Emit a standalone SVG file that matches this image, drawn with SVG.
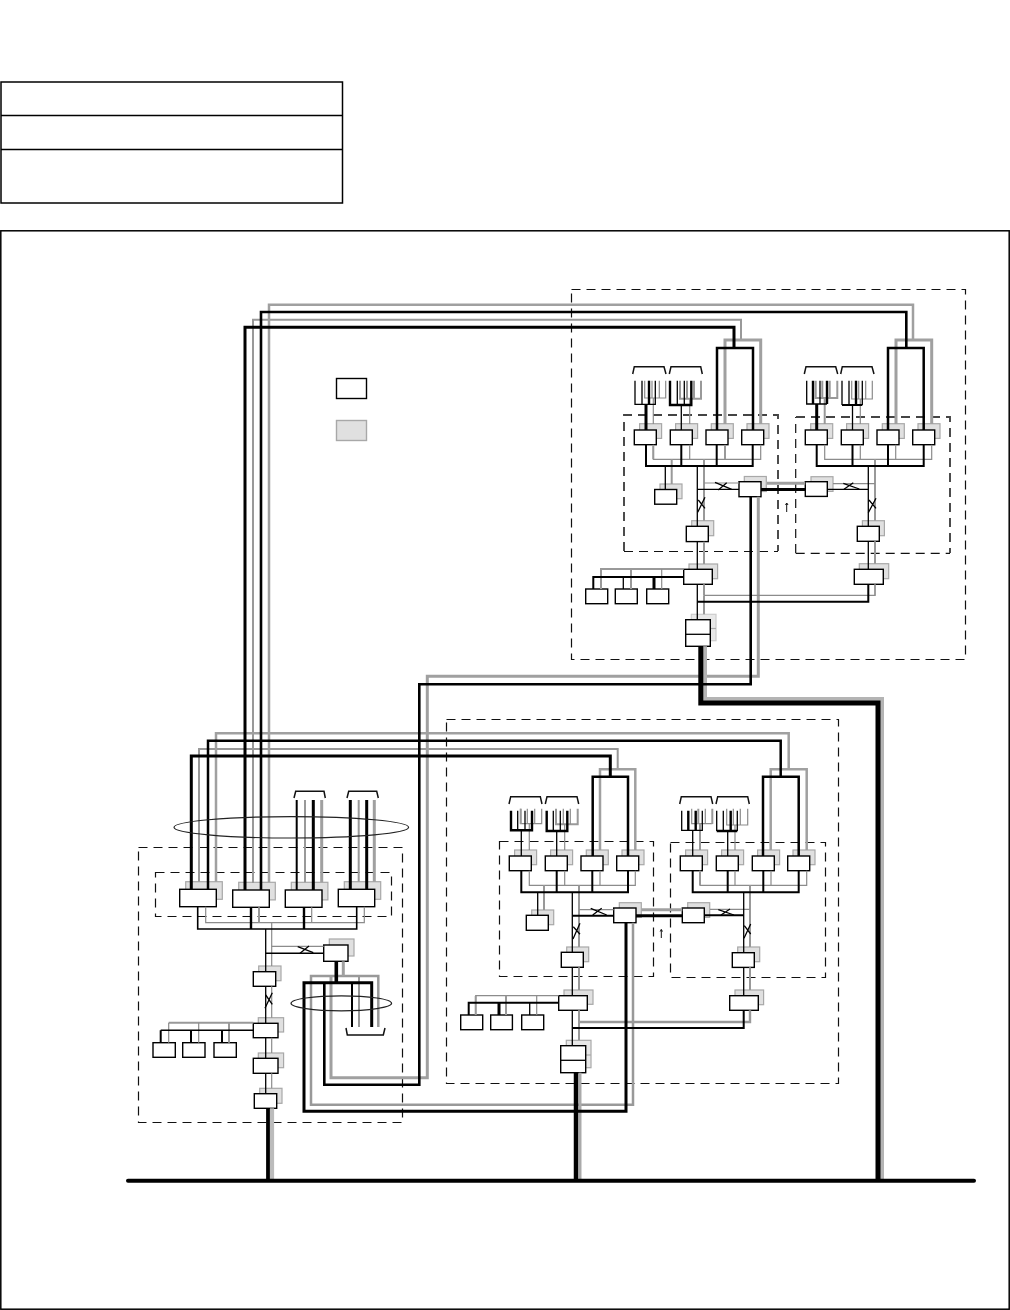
<svg xmlns="http://www.w3.org/2000/svg" width="1010" height="1310" viewBox="0 0 1010 1310">
<style>
.frame{fill:none;stroke:#000;stroke-width:1.5}
.d{fill:none;stroke:#111;stroke-width:1.2;stroke-dasharray:9 6}
.dt{fill:none;stroke:#444;stroke-width:1.9;stroke-dasharray:9 6}
.n{fill:#fff;stroke:#000;stroke-width:1.4}
.s{fill:#e0e0e0;stroke:#a8a8a8;stroke-width:1.2}
.w{fill:none;stroke-linejoin:miter}
.b1{stroke:#000;stroke-width:1.3}
.b2{stroke:#000;stroke-width:2}
.b3{stroke:#000;stroke-width:3}
.g1{stroke:#8c8c8c;stroke-width:1.2}
.g2{stroke:#999;stroke-width:2}
.g3{stroke:#a0a0a0;stroke-width:3}
.br{fill:none;stroke:#111;stroke-width:1.5}
.el{fill:none;stroke:#222;stroke-width:1.2}
</style>

<g id="table">
<rect class="frame" x="1" y="82" width="341.5" height="121"/>
<path class="frame" d="M1 115.5H342.5M1 149.5H342.5"/>
</g>
<rect id="outer-frame" class="frame" x="0.8" y="230.8" width="1008.4" height="1078.4"/>

<g id="zones">
<rect class="d" x="571.5" y="289.5" width="394" height="370"/>
<rect class="d" x="446.5" y="719.5" width="392" height="364"/>
<rect class="d" x="138.5" y="847.5" width="264" height="275"/>
<rect class="d" x="155.5" y="872.5" width="236" height="44"/>
<rect class="d" x="499.5" y="841.5" width="154" height="135"/>
<rect class="d" x="670.5" y="842.5" width="155" height="135"/>
<path class="dt" d="M624 551V415H778V551"/>
<path class="d" d="M624 551.5H778"/>
<path class="d" d="M795.7 553V417M795.7 553.3H950"/>
<path class="dt" d="M796 417H950V553"/>
</g>

<g id="legend-plain"><rect class="n" x="336.5" y="378.5" width="30" height="20"/></g>
<g id="legend-shadow"><rect class="s" x="336.5" y="420.5" width="30" height="20" style="stroke-width:1.4"/></g>

<g id="node-a1"><rect class="s" x="639.6" y="423.7" width="22" height="14.7"/><rect class="n" x="634.3" y="430" width="22" height="14.7"/></g>
<g id="node-a2"><rect class="s" x="675.6" y="423.7" width="22" height="14.7"/><rect class="n" x="670.3" y="430" width="22" height="14.7"/></g>
<g id="node-a3"><rect class="s" x="711.3" y="423.7" width="22" height="14.7"/><rect class="n" x="706" y="430" width="22" height="14.7"/></g>
<g id="node-a4"><rect class="s" x="747" y="423.7" width="22" height="14.7"/><rect class="n" x="741.7" y="430" width="22" height="14.7"/></g>
<g id="node-a5"><rect class="s" x="660" y="484" width="22" height="14.7"/><rect class="n" x="654.7" y="489.5" width="22" height="14.7"/></g>
<g id="node-a6"><rect class="s" x="744.3" y="476.5" width="22" height="15"/><rect class="n" x="739" y="481.7" width="22" height="15"/></g>
<g id="node-a7"><rect class="s" x="691.7" y="520.7" width="22" height="15"/><rect class="n" x="686.3" y="526.3" width="22" height="15.3"/></g>
<g id="node-a8"><rect class="s" x="689" y="564" width="28.6" height="14.7"/><rect class="n" x="683.7" y="569.3" width="28.6" height="15"/></g>
<g id="node-a9"><rect class="n" x="585.7" y="589" width="22" height="14.7"/></g>
<g id="node-a10"><rect class="n" x="615.3" y="589" width="22" height="14.7"/></g>
<g id="node-a11"><rect class="n" x="646.7" y="589" width="22" height="14.7"/></g>
<g id="node-a12"><rect class="s" x="691.3" y="614.3" width="24.7" height="26.4" style="fill:#e8e8e8;stroke:#ccc"/><path d="M691.3 628.5H716" stroke="#aaa" stroke-width="1.2" fill="none"/><rect class="n" x="685.7" y="619.7" width="24.6" height="26.6"/><path class="b1" d="M685.7 634.3H710.3"/></g>

<g id="node-a13"><rect class="s" x="810.7" y="423.7" width="22" height="14.7"/><rect class="n" x="805.3" y="430" width="22" height="14.7"/></g>
<g id="node-a14"><rect class="s" x="846.6" y="423.7" width="22" height="14.7"/><rect class="n" x="841.3" y="430" width="22" height="14.7"/></g>
<g id="node-a15"><rect class="s" x="882.3" y="423.7" width="22" height="14.7"/><rect class="n" x="877" y="430" width="22" height="14.7"/></g>
<g id="node-a16"><rect class="s" x="918" y="423.7" width="22" height="14.7"/><rect class="n" x="912.7" y="430" width="22" height="14.7"/></g>
<g id="node-a17"><rect class="s" x="811" y="476.7" width="22" height="14.7"/><rect class="n" x="805.3" y="481.7" width="22" height="14.7"/></g>
<g id="node-a18"><rect class="s" x="862.4" y="520.7" width="22" height="15"/><rect class="n" x="857.3" y="526.3" width="22" height="15"/></g>
<g id="node-a19"><rect class="s" x="859.3" y="563.7" width="29.4" height="15"/><rect class="n" x="854.3" y="569.3" width="29" height="15"/></g>

<g id="node-b1"><rect class="s" x="514.6" y="850" width="22" height="14.7"/><rect class="n" x="509.3" y="856" width="22" height="14.7"/></g>
<g id="node-b2"><rect class="s" x="550.6" y="850" width="22" height="14.7"/><rect class="n" x="545.3" y="856" width="22" height="14.7"/></g>
<g id="node-b3"><rect class="s" x="586.3" y="850" width="22" height="14.7"/><rect class="n" x="581" y="856" width="22" height="14.7"/></g>
<g id="node-b4"><rect class="s" x="622" y="850" width="22" height="14.7"/><rect class="n" x="616.7" y="856" width="22" height="14.7"/></g>
<g id="node-b5"><rect class="s" x="531.7" y="910" width="22" height="14.7"/><rect class="n" x="526.3" y="915.3" width="22" height="15"/></g>
<g id="node-b6"><rect class="s" x="619.3" y="902.7" width="22" height="14.7"/><rect class="n" x="613.7" y="908" width="22.3" height="14.7"/></g>
<g id="node-b7"><rect class="s" x="566.7" y="947" width="22" height="14.7"/><rect class="n" x="561.3" y="952.3" width="22" height="15"/></g>
<g id="node-b8"><rect class="s" x="564" y="990" width="29" height="14.3"/><rect class="n" x="558.7" y="995.7" width="28.6" height="14.6"/></g>
<g id="node-b9"><rect class="n" x="460.7" y="1015" width="22" height="14.7"/></g>
<g id="node-b10"><rect class="n" x="490.7" y="1015" width="21.7" height="14.7"/></g>
<g id="node-b11"><rect class="n" x="521.7" y="1015" width="22" height="14.7"/></g>
<g id="node-b12"><rect class="s" x="566.3" y="1040.3" width="24.7" height="27.4" style="fill:#e8e8e8"/><path d="M566.3 1055H591" stroke="#aaa" stroke-width="1.2" fill="none"/><rect class="n" x="560.7" y="1045.7" width="25" height="27"/><path class="b1" d="M560.7 1060.3H585.7"/></g>

<g id="node-b13"><rect class="s" x="685.6" y="850" width="22" height="14.7"/><rect class="n" x="680.3" y="856" width="22" height="14.7"/></g>
<g id="node-b14"><rect class="s" x="721.6" y="850" width="22" height="14.7"/><rect class="n" x="716.3" y="856" width="22" height="14.7"/></g>
<g id="node-b15"><rect class="s" x="757.6" y="850" width="22" height="14.7"/><rect class="n" x="752.3" y="856" width="22" height="14.7"/></g>
<g id="node-b16"><rect class="s" x="793" y="850" width="22" height="14.7"/><rect class="n" x="787.7" y="856" width="22" height="14.7"/></g>
<g id="node-b17"><rect class="s" x="687.7" y="902.7" width="22" height="14.7"/><rect class="n" x="682.3" y="908" width="22" height="14.7"/></g>
<g id="node-b18"><rect class="s" x="737.7" y="947" width="22" height="14.7"/><rect class="n" x="732.3" y="952.7" width="22" height="14.7"/></g>
<g id="node-b19"><rect class="s" x="735" y="990" width="28.6" height="14.7"/><rect class="n" x="729.7" y="995.7" width="28.6" height="14.6"/></g>

<g id="node-c1"><rect class="s" x="185.7" y="881.7" width="36.6" height="17.6"/><rect class="n" x="179.7" y="889.3" width="36.6" height="17.4"/></g>
<g id="node-c2"><rect class="s" x="238.7" y="882.3" width="36.6" height="17.6"/><rect class="n" x="232.7" y="890" width="36.6" height="17.3"/></g>
<g id="node-c3"><rect class="s" x="291.3" y="882.3" width="36.6" height="17.6"/><rect class="n" x="285.3" y="890" width="36.7" height="17.3"/></g>
<g id="node-c4"><rect class="s" x="344.3" y="881.7" width="36.4" height="17.6"/><rect class="n" x="338.3" y="889.3" width="36.4" height="17.4"/></g>
<g id="node-c5"><rect class="s" x="329.3" y="939" width="24.7" height="17"/><rect class="n" x="323.7" y="945" width="24.3" height="16.3"/></g>
<g id="node-c6"><rect class="s" x="258.7" y="966" width="22.3" height="14.7"/><rect class="n" x="253.3" y="971.7" width="22.4" height="14.6"/></g>
<g id="node-c7"><rect class="s" x="258.3" y="1017.7" width="25.3" height="14.3"/><rect class="n" x="253.3" y="1023.3" width="24.7" height="14.4"/></g>
<g id="node-c8"><rect class="n" x="153" y="1042.7" width="22.3" height="14.6"/></g>
<g id="node-c9"><rect class="n" x="182.7" y="1042.7" width="22.3" height="14.6"/></g>
<g id="node-c10"><rect class="n" x="214" y="1042.7" width="22.3" height="14.6"/></g>
<g id="node-c11"><rect class="s" x="258.3" y="1053" width="25.3" height="14.7"/><rect class="n" x="253.3" y="1058.3" width="24.7" height="15"/></g>
<g id="node-c12"><rect class="s" x="259.7" y="1088.3" width="22.3" height="15"/><rect class="n" x="254.3" y="1093.7" width="22.4" height="14.6"/></g>

<g id="connectors" class="w">
<path class="w g2" d="M253 883V319.7H741V340"/>
<path class="w g3" style="stroke-width:2.5" d="M269 882.3V304.7H913V340"/>
<path class="w g2" d="M199 881.7V749H617.7V769.3"/>
<path class="w g3" style="stroke-width:2.5" d="M216 881.7V733.3H788.7V769.3"/>
<path class="w g3" d="M758.3 496.7V676.3H427.3V1077.7H331V976"/>
<path class="w g2" style="stroke-width:2.5" d="M633 922.7V1104.7H311V976H378.3V1027"/>
<path class="w g2" d="M359 976V1027"/>
<path class="w g3" d="M343.3 961.3V976"/>
<path class="w g2" d="M305 800V882.3M358.7 800V881.7"/>
<path class="w g3" d="M321.7 800V882.3M374.3 800V881.7"/>
<path class="w g3" d="M725 424V340H760.7V424"/>
<path class="w g3" d="M896 424V340H931.7V424"/>
<path class="w g3" style="stroke-width:2.5" d="M600 850V769.3H635.3V850"/>
<path class="w g3" style="stroke-width:2.5" d="M770.7 850V769.3H806.7V850"/>
<path class="w g1" d="M653.3 444.7V459.3H760.7V444.7M689.7 444.7V459.3M725 444.7V459.3"/>
<path class="w g2" d="M653.3 445V459M725 445V459"/>
<path class="w g1" d="M824.7 444.7V459.3H931.7V444.7M860.3 444.7V459.3M895.7 444.7V459.3"/>
<path class="w g1" d="M529.3 870.7V885.3H635.3V870.7M564.7 870.7V885.3M600 870.7V885.3"/>
<path class="w g1" d="M700 870.7V885.3H806.7V870.7M735 870.7V885.3M771 870.7V885.3"/>
<path class="w g2" d="M700 870.7V885"/>
<path class="w g1" d="M205.7 906.7V922.7H364.3V906.7M311.7 907.3V922.7"/>
<path class="w g2" d="M259 907.3V922.7"/>
<path class="w g2" d="M704 459.3V520.7M704 541.7V564M704 584.3V595.3"/>
<path class="w g2" d="M704 595.3V614.3"/>
<path class="w g1" d="M704 595.3H875V584.3"/>
<path class="w g2" d="M875 459.3V520.7M875 541.3V563.7"/>
<path class="w g1" d="M875 584.3V595.7"/>
<path class="w g2" d="M579 885.3V947M579 967.3V990M579 1010.3V1040.3"/>
<path class="w g2" style="stroke-width:2.4" d="M579 1022H750V1010.3"/>
<path class="w g2" d="M750 885.3V947M750 967.3V990"/>
<path class="w g1" d="M271.7 922.7V966M271.7 986.3V1017.7M271.7 1037.7V1053M271.7 1073.3V1088.3"/>
<path class="w g1" d="M704 483H739"/>
<path class="w g3" d="M767 483.3H805.3"/>
<path class="w g1" d="M833 483.7H875"/>
<path class="w g1" d="M579 909.7H613.7"/>
<path class="w g3" d="M641.5 909.7H682.3"/>
<path class="w g1" d="M710 909.3H750"/>
<path class="w g1" d="M271.7 946.3H323.7"/>
<path class="w g2" d="M671.7 459.3V484M544 885.3V910M601 589V569H683.7M631 569V589"/>
<path class="w g1" d="M661.7 569V589"/>
<path class="w g1" d="M475.7 1015V995.7H558.7M536.7 995.7V1015"/>
<path class="w g2" d="M475.7 996V1015M506 995.7V1015"/>
<path class="w g2" d="M253.3 1022.7H168.7"/>
<path class="w g1" d="M168.7 1022.7V1042.7M198.7 1022.7V1042.7"/>
<path class="w g2" d="M229 1022.7V1042.7"/>
<path class="w g1" d="M644.7 380.7V398H665.7V380.7M652 380.7V398M659.3 380.7V398"/>
<path class="w g1" d="M653.3 398V424"/>
<path class="w g2" d="M680 380.7V398.7H701V380.7M687 380.7V398.7M694 380.7V398.7"/>
<path class="w g1" d="M689.7 398.7V424"/>
<path class="w g2" d="M815.7 380.7V398H837.3V380.7M822.3 380.7V398M829.7 380.7V398"/>
<path class="w g2" d="M824.7 398V424"/>
<path class="w g1" d="M851.7 380.7V399H872.3V380.7M858.7 380.7V399M865.7 380.7V399"/>
<path class="w g1" d="M860.3 399V424"/>
<path class="w g1" d="M520.7 808.7V823.7H541.7V808.7M527.3 808.7V823.7M534.7 808.7V823.7"/>
<path class="w g2" d="M520.7 808.7V824"/>
<path class="w g1" d="M529.3 823.7V850"/>
<path class="w g2" d="M556 808.7V824.3H577.7V808.7"/>
<path class="w g1" d="M563.3 808.7V824.3M570.3 808.7V824.3M564.7 824.3V850"/>
<path class="w g1" d="M691.7 808.7V823.7H712.3M705.3 808.7V823.7"/>
<path class="w g2" d="M698.3 808.7V823.7M712.3 808.7V824M700 823.7V850"/>
<path class="w g1" d="M726.7 808.7V825H747.7V808.7M733.3 808.7V825M740.3 808.7V825M735 825V850"/>
<path class="w" stroke="#b4b4b4" stroke-width="4" d="M705 646.3V699H882V1180"/>
<path class="w" stroke="#aaa" stroke-width="3" d="M580 1072.7V1180"/>
<path class="w" stroke="#bbb" stroke-width="4.2" d="M272 1108.3V1180"/>

<path class="w b3" d="M245 890V327.3H734V348"/>
<path class="w b3" style="stroke-width:2.6" d="M261 890V312H906.3V348"/>
<path class="w b3" d="M191.3 889.3V756H610.3V776.7"/>
<path class="w b3" style="stroke-width:2.5" d="M208 889.3V740.7H780.7V776.7"/>
<path class="w b3" style="stroke-width:2.6" d="M750.7 496.7V684.3H419.3V1084.7H324.3V982.7"/>
<path class="w b3" d="M626 922.7V1111.3H304V982.7H371.7V1027"/>
<path class="w b2" d="M352 982.7V1027"/>
<path class="w b3" style="stroke-width:3.6" d="M336.3 961.3V982.7"/>
<path class="w b2" d="M296.7 800V890"/>
<path class="w b3" d="M313.3 800V890M350.3 800V889.3M366.7 800V889.3"/>
<path class="w b3" style="stroke-width:2.5" d="M717 430V348H753V430"/>
<path class="w b3" style="stroke-width:2.5" d="M888 430V348H923.7V430"/>
<path class="w b3" style="stroke-width:2.5" d="M592.7 856V776.7H628V856"/>
<path class="w b3" style="stroke-width:2.5" d="M763 856V776.7H798.7V856"/>
<path class="w b2" d="M646 444.7V466H752.7V444.7M681.3 444.7V466M716.7 444.7V466"/>
<path class="w b2" d="M816.7 444.7V466H923.7V444.7M852.5 444.7V466M888 444.7V466"/>
<path class="w b2" d="M521.3 870.7V892.3H628V870.7M556.7 870.7V892.3M592.3 870.7V892.3"/>
<path class="w b2" d="M692.7 870.7V892.3H798.7V870.7M727.7 870.7V892.3M763.3 870.7V892.3"/>
<path class="w b1" style="stroke-width:1.6" d="M197.7 906.7V929H356.7V906.7"/>
<path class="w b3" style="stroke-width:2.4" d="M251 907.3V929M304 907.3V929"/>
<path class="w b1" d="M697.3 466V526.3M697.3 541.7V569.3M697.3 584.3V619.7"/>
<path class="w b2" d="M697.3 601.7H868.3V584.3"/>
<path class="w b1" d="M868.3 466V526.3M868.3 541.3V569.3"/>
<path class="w b1" d="M572.3 892.3V952.3M572.3 967.3V995.7M572.3 1010.3V1045.7"/>
<path class="w b2" d="M572.3 1028H743.7V1010.3"/>
<path class="w b1" d="M743.7 892.3V952.7M743.7 967.3V995.7"/>
<path class="w b1" d="M265.7 929V971.7M265.7 986.3V1023.3M265.7 1037.7V1058.3M265.7 1073.3V1093.7"/>
<path class="w b1" d="M697.3 489.3H739"/>
<path class="w b3" d="M761 489.5H805.3"/>
<path class="w b1" d="M827.3 489.3H868.3"/>
<path class="w b2" d="M572.3 915.7H613.7"/>
<path class="w b3" d="M636 915.7H682.3"/>
<path class="w b2" d="M704.3 915.3H743.7"/>
<path class="w b1" style="stroke-width:1.5" d="M265.7 953.3H323.7"/>
<path class="w b1" d="M715 482.3L731.7 489.3M718.3 490L726.7 482.7M697.7 512.3L705 497.3M698.3 500L705 508.3"/>
<path class="w b1" d="M843.3 483.3L859.3 489M844 489.3L853.3 482.7M868.3 512.7L876 498.3M869 500L876 508.3"/>
<path class="w b1" d="M590.7 908.3L606.7 915M592.7 915L601.7 908.3M573 939L580 923.3M573.3 926.7L580 934.3"/>
<path class="w b1" d="M718.3 909.7L734 915M721 915L730 909M744 938.3L750.7 924M744.3 925.7L750.7 934"/>
<path class="w b1" d="M297.7 946.7L313.3 952.7M300 953.3L309 946M265 1008.3L272.3 992.7M265.7 995L272.3 1004.3"/>
<path class="w b1" d="M665.3 466V489.5M537.7 892.3V915.3"/>
<path class="w b2" d="M593.3 589V577H683.7"/>
<path class="w b1" d="M623.3 577V589"/>
<path class="w b3" d="M654 577V589"/>
<path class="w b2" d="M468.7 1015V1002.7H558.7"/>
<path class="w b3" d="M499 1002.7V1015"/>
<path class="w b1" d="M529.7 1002.7V1015"/>
<path class="w b1" style="stroke-width:1.5" d="M253.3 1030.3H160.7"/>
<path class="w b2" d="M160.7 1030.3V1042.7M191 1030.3V1042.7M222 1030.3V1042.7"/>
<path class="w b1" d="M635 380.7V404.3H655.3V380.7M642 380.7V404.3"/>
<path class="w b3" style="stroke-width:2.4" d="M649 380.7V404.3"/>
<path class="w b3" d="M646 404.3V430"/>
<path class="w b1" d="M677.3 380.7V405M684.3 380.7V405"/>
<path class="w b3" style="stroke-width:2.4" d="M670 380.7V405H691.3V380.7"/>
<path class="w b1" d="M681.3 405V430"/>
<path class="w b1" d="M806.7 380.7V404H827M820 380.7V404"/>
<path class="w b3" style="stroke-width:2.4" d="M813 380.7V404M827 380.7V404"/>
<path class="w b3" d="M816.7 404V430"/>
<path class="w b1" d="M842 380.7V405M849 380.7V405M862.3 380.7V405"/>
<path class="w b2" d="M842 405H862.3"/>
<path class="w b3" style="stroke-width:2.4" d="M856 380.7V405"/>
<path class="w b1" d="M852.5 405V430"/>
<path class="w b1" d="M517.7 810.7V830M525 810.7V830"/>
<path class="w b3" style="stroke-width:2.4" d="M511 810.7V830.3H532V810.7"/>
<path class="w b1" d="M521.3 830.3V856"/>
<path class="w b1" d="M553.3 810.7V831M560.3 810.7V831"/>
<path class="w b3" style="stroke-width:2.4" d="M546.7 810.7V831H567.3V810.7"/>
<path class="w b1" d="M556.7 831V856"/>
<path class="w b1" d="M681.7 810.7V830.3H702.3V810.7"/>
<path class="w b3" style="stroke-width:2.4" d="M688.3 810.7V830.3M695.7 810.7V830.3"/>
<path class="w b1" d="M692.7 830.3V856"/>
<path class="w b1" d="M716.7 810.7V831M723.3 810.7V831M737.3 810.7V831"/>
<path class="w b3" style="stroke-width:2.4" d="M716.7 831H737.3M730.7 810.7V831"/>
<path class="w b1" d="M727.7 831V856"/>
<path class="w" stroke="#000" stroke-width="5" d="M700.8 646.3V703H878V1180"/>
<path class="w" stroke="#000" stroke-width="4.5" d="M576 1072.7V1180"/>
<path class="w" stroke="#000" stroke-width="3.8" d="M268 1108.3V1180"/>
<path fill="none" stroke="#000" stroke-width="4" stroke-linecap="round" d="M128 1180.7H974"/>
<path class="w" stroke="#111" stroke-width="1" d="M786.7 512V503M785.5 505L786.7 503L788 505"/>
<path class="w" stroke="#111" stroke-width="1" d="M661.3 938V929.5M660.2 931.5L661.3 929.5L662.5 931.5"/>
</g>

<g id="brackets">
<path class="br" d="M632.7 374L634.3 366.7H664L666 374"/>
<path class="br" d="M669.3 374L671 366.7H700.7L702.3 374"/>
<path class="br" d="M804.3 374L806 366.7H835.7L837.7 374"/>
<path class="br" d="M840.7 374L842.3 366.7H872L874 374"/>
<path class="br" d="M509 804L510.7 796.7H540.3L542 804"/>
<path class="br" d="M545.3 804L547 796.7H577L578.7 804"/>
<path class="br" d="M679.7 804L681.3 796.7H711L712.7 804"/>
<path class="br" d="M716 804L717.7 796.7H747.7L749.3 804"/>
<path class="br" d="M294 798L295.7 791.3H324L325.3 798"/>
<path class="br" d="M347 798L348.7 791.3H376.7L378.3 798"/>
<path class="br" d="M346 1028L347.3 1035H383.3L385 1028"/>
</g>

<g id="rings">
<ellipse class="el" cx="291.3" cy="827.3" rx="117.3" ry="10.7"/>
<ellipse class="el" cx="341.3" cy="1003.3" rx="50.3" ry="7.5"/>
</g>
</svg>
